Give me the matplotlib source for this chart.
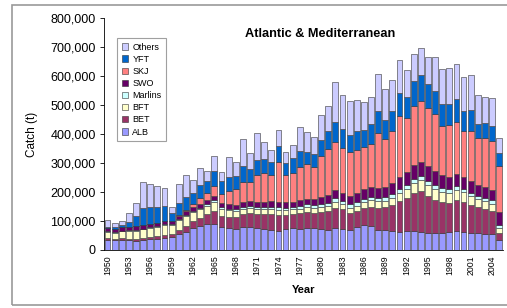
import matplotlib
matplotlib.use("Agg")
import matplotlib.pyplot as plt
from matplotlib.patches import Rectangle

# === DATA (catch in tonnes) ===
years = list(range(1950, 2006))

alb = [35, 33, 34, 33, 30, 35, 37, 38, 42, 45, 55, 62, 75, 82, 88, 90, 78, 75, 72, 78,
       80, 75, 72, 70, 65, 72, 75, 73, 76, 75, 72, 70, 76, 72, 68, 80, 85, 82, 70, 68,
       65, 63, 64, 66, 63, 60, 58, 60, 62, 64, 62, 60, 58, 56, 55, 35]
bet = [5, 5, 6, 6, 7, 8, 8, 9, 10, 10, 15, 20, 25, 30, 35, 45, 38, 40, 42, 45,
       48, 50, 52, 55, 55, 48, 50, 55, 55, 52, 60, 65, 70, 68, 60, 55, 60, 68, 75, 80,
       90, 105, 115, 130, 140, 125, 115, 105, 100, 110, 105, 95, 90, 85, 80, 25]
bft = [22, 22, 25, 28, 30, 28, 30, 32, 33, 30, 32, 35, 30, 28, 30, 30, 25, 22, 20, 18,
       18, 17, 16, 17, 18, 17, 15, 15, 16, 17, 18, 18, 20, 18, 17, 18, 20, 22, 24, 22,
       25, 30, 32, 35, 38, 40, 38, 36, 35, 33, 32, 30, 28, 27, 25, 15]
marlins = [2, 2, 2, 2, 3, 3, 3, 3, 3, 3, 4, 4, 5, 5, 5, 6, 6, 6, 7, 7,
           7, 8, 8, 8, 9, 9, 9, 9, 10, 10, 10, 10, 12, 12, 12, 12, 12, 12, 12, 12,
           12, 13, 13, 14, 14, 14, 14, 13, 13, 13, 12, 12, 11, 11, 11, 10]
swo = [12, 12, 12, 12, 12, 12, 12, 12, 12, 12, 12, 13, 13, 14, 14, 15, 15, 15, 15, 16,
       16, 17, 17, 18, 18, 18, 18, 20, 20, 22, 24, 26, 28, 28, 30, 30, 32, 32, 34, 35,
       38, 42, 45, 48, 50, 50, 48, 45, 42, 42, 40, 40, 38, 38, 36, 45]
skj = [0, 0, 0, 0, 0, 0, 0, 0, 1, 1, 3, 5, 10, 20, 25, 35, 30, 45, 55, 70,
       65, 90, 100, 90, 140, 95, 100, 115, 120, 110, 140, 160, 165, 155, 150, 150, 145, 150, 190, 165,
       180, 210, 185, 205, 210, 200, 195, 170, 180, 180, 160, 175, 160, 170, 170, 160]
yft = [5, 5, 8, 15, 35, 60, 60, 55, 50, 25, 40, 45, 40, 45, 40, 50, 45, 50, 45, 55,
       45, 55, 50, 45, 55, 40, 50, 55, 40, 45, 55, 60, 70, 65, 60, 65, 60, 70, 75, 65,
       70, 80, 75, 85, 88, 85, 80, 75, 70, 80, 70, 70, 50, 50, 50, 45]
others = [22, 15, 14, 30, 44, 90, 76, 73, 62, 24, 66, 75, 43, 59, 37, 54, 33, 69, 49, 94,
          54, 90, 59, 42, 54, 40, 45, 81, 69, 60, 86, 89, 139, 116, 117, 107, 97, 93, 126, 108,
          106, 112, 92, 92, 95, 93, 119, 120, 127, 118, 117, 121, 99, 92, 98, 50]

species = ["ALB", "BET", "BFT", "Marlins", "SWO", "SKJ", "YFT", "Others"]
series = [alb, bet, bft, marlins, swo, skj, yft, others]
colors = ["#9999FF", "#993366", "#FFFFCC", "#CCFFFF", "#660066", "#FF8080", "#0066CC", "#CCCCFF"]

plt.rcParams['font.family'] = ['Liberation Sans', 'DejaVu Sans']

fig = plt.figure(figsize=(5.07, 3.08), dpi=100)
fig.patches.append(Rectangle((12 / 507, 1 - 305 / 308), 1.0, 300 / 308, transform=fig.transFigure,
                             fill=False, edgecolor="#999999", linewidth=1.2))
ax = fig.add_axes([104 / 507, 1 - 250 / 308, 398.7 / 507, 232 / 308])

x = list(range(len(years)))
bottom = [0] * len(years)
handles = []
for name, vals, col in zip(species, series, colors):
    v = [a * 1000 for a in vals]
    b = ax.bar(x, v, bottom=bottom, width=0.82, color=col, edgecolor="#333333",
               linewidth=0.4, label=name)
    handles.append(b)
    bottom = [p + q for p, q in zip(bottom, v)]

ax.set_xlim(-0.5, len(years) - 0.5)
ax.set_ylim(0, 800000)
ax.set_yticks(range(0, 800001, 100000))
ax.set_yticklabels([f"{t:,}" for t in range(0, 800001, 100000)], fontsize=9)
ax.set_xticks(x[::3])
ax.set_xticklabels([str(y) for y in years[::3]], rotation=90, fontsize=6.3)
ax.tick_params(axis='y', length=3, width=0.6, pad=3)
ax.tick_params(axis='x', length=0, pad=4)
for s in ["top", "right"]:
    ax.spines[s].set_visible(False)
ax.spines["left"].set_linewidth(0.6)
ax.spines["bottom"].set_linewidth(0.6)

ax.set_ylabel("Catch (t)", fontsize=8.5, labelpad=9)
ax.set_xlabel("Year", fontsize=8, fontweight="bold", labelpad=7)
fig.text(320 / 507, 1 - 34 / 308, "Atlantic & Mediterranean", fontsize=9.2,
         fontweight="bold", ha="center", va="center")

leg = ax.legend(handles[::-1], species[::-1], loc="upper left",
                bbox_to_anchor=(117 / 507, 1 - 38 / 308), bbox_transform=fig.transFigure,
                fontsize=6.5, frameon=True, fancybox=False, borderaxespad=0,
                handlelength=0.7, handleheight=0.7, handletextpad=0.5,
                labelspacing=0.35, borderpad=0.5)
leg.get_frame().set_edgecolor("#888888")
leg.get_frame().set_linewidth(0.8)

fig.savefig("out.png", dpi=100)
